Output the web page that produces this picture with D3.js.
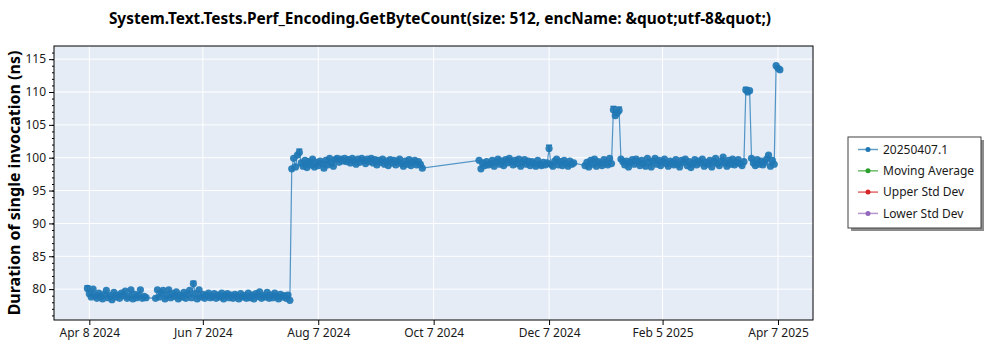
<!DOCTYPE html>
<html>
<head>
<meta charset="utf-8">
<script src="https://cdn.jsdelivr.net/npm/d3@7"></script>
<style>
  body { margin: 0; background: #fff; }
  svg { font-family: "Segoe UI", "Noto Sans", "Open Sans", sans-serif; }
</style>
</head>
<body>
<svg id="chart" width="1000" height="350"></svg>
<script>

const chartTitle = 'System.Text.Tests.Perf_Encoding.GetByteCount(size: 512, encName: &quot;utf-8&quot;)'
const yLabel = 'Duration of single invocation (ns)'

const xTickDates = ['2024-04-08', '2024-06-07', '2024-08-07', '2024-10-07', '2024-12-07', '2025-02-05', '2025-04-07']
const xTickLabels = ['Apr 8 2024', 'Jun 7 2024', 'Aug 7 2024', 'Oct 7 2024', 'Dec 7 2024', 'Feb 5 2025', 'Apr 7 2025']
const yTicks = [80, 85, 90, 95, 100, 105, 110, 115]

const seriesNames = ['20250407.1', 'Moving Average', 'Upper Std Dev', 'Lower Std Dev']
const seriesColors = ['#1f77b4', '#2ca02c', '#d62728', '#9467bd']

// [run date, mean duration in ns]
const runs = [
    ['2024-04-07',80.1],['2024-04-08',79.3],['2024-04-09',78.8],['2024-04-10',80.0],['2024-04-11',79.0],['2024-04-12',78.6],
    ['2024-04-13',79.4],['2024-04-14',78.9],['2024-04-15',78.5],['2024-04-16',79.2],['2024-04-17',79.8],['2024-04-18',78.7],
    ['2024-04-19',79.0],['2024-04-20',78.4],['2024-04-21',79.5],['2024-04-22',78.8],['2024-04-23',79.1],['2024-04-24',78.6],
    ['2024-04-25',79.4],['2024-04-26',79.0],['2024-04-27',79.7],['2024-04-28',78.6],['2024-04-29',78.9],['2024-04-30',79.9],
    ['2024-05-01',78.5],['2024-05-02',79.2],['2024-05-03',78.7],['2024-05-04',79.0],['2024-05-05',79.9],['2024-05-06',78.6],
    ['2024-05-07',78.9],['2024-05-08',78.7],
    ['2024-05-13',78.6],['2024-05-14',79.9],['2024-05-15',78.8],['2024-05-16',79.4],['2024-05-17',79.8],['2024-05-18',78.5],
    ['2024-05-19',79.0],['2024-05-20',79.9],['2024-05-21',78.7],['2024-05-22',79.3],['2024-05-23',78.9],['2024-05-24',79.6],
    ['2024-05-25',78.5],['2024-05-26',79.1],['2024-05-27',78.8],['2024-05-28',79.5],['2024-05-29',78.6],['2024-05-30',79.2],
    ['2024-05-31',79.8],['2024-06-01',78.7],['2024-06-02',80.8],['2024-06-03',79.3],['2024-06-04',78.5],['2024-06-05',79.9],
    ['2024-06-06',78.8],['2024-06-07',79.2],['2024-06-08',78.6],['2024-06-09',79.0],['2024-06-10',79.4],['2024-06-11',78.7],
    ['2024-06-12',78.9],['2024-06-13',79.3],['2024-06-14',78.6],['2024-06-15',79.1],['2024-06-16',78.8],['2024-06-17',79.4],
    ['2024-06-18',78.5],['2024-06-19',79.0],['2024-06-20',79.3],['2024-06-21',78.7],['2024-06-22',79.1],['2024-06-23',78.6],
    ['2024-06-24',79.2],['2024-06-25',78.9],['2024-06-26',78.5],['2024-06-27',79.3],['2024-06-28',78.8],['2024-06-29',79.0],
    ['2024-06-30',78.6],['2024-07-01',79.4],['2024-07-02',78.7],['2024-07-03',79.1],['2024-07-04',78.5],['2024-07-05',79.3],
    ['2024-07-06',78.9],['2024-07-07',79.6],['2024-07-08',78.6],['2024-07-09',79.0],['2024-07-10',78.8],['2024-07-11',79.5],
    ['2024-07-12',78.6],['2024-07-13',79.1],['2024-07-14',78.7],['2024-07-15',79.4],['2024-07-16',78.9],['2024-07-17',78.5],
    ['2024-07-18',79.2],['2024-07-19',78.8],['2024-07-20',79.0],['2024-07-21',78.6],['2024-07-22',79.1],['2024-07-23',78.3],
    ['2024-07-24',98.3],['2024-07-25',99.9],['2024-07-26',98.6],['2024-07-27',100.4],['2024-07-28',100.8],['2024-07-29',99.2],
    ['2024-07-30',98.7],['2024-07-31',99.6],['2024-08-01',98.5],['2024-08-02',99.4],['2024-08-03',98.9],['2024-08-04',99.8],
    ['2024-08-05',98.6],['2024-08-06',99.3],['2024-08-07',98.8],['2024-08-08',99.5],['2024-08-09',99.1],['2024-08-10',98.4],
    ['2024-08-11',99.6],['2024-08-12',98.9],['2024-08-13',99.9],['2024-08-14',99.2],['2024-08-15',98.7],['2024-08-16',99.7],
    ['2024-08-17',99.9],['2024-08-18',99.3],['2024-08-19',99.8],['2024-08-20',99.5],['2024-08-21',99.9],['2024-08-22',99.4],
    ['2024-08-23',99.7],['2024-08-24',99.2],['2024-08-25',99.9],['2024-08-26',99.5],['2024-08-27',99.0],['2024-08-28',99.8],
    ['2024-08-29',99.3],['2024-08-30',99.9],['2024-08-31',99.6],['2024-09-01',99.1],['2024-09-02',99.8],['2024-09-03',99.4],
    ['2024-09-04',99.9],['2024-09-05',99.2],['2024-09-06',99.7],['2024-09-07',98.9],['2024-09-08',99.6],['2024-09-09',99.3],
    ['2024-09-10',99.8],['2024-09-11',99.0],['2024-09-12',99.5],['2024-09-13',98.8],['2024-09-14',99.7],['2024-09-15',99.2],
    ['2024-09-16',99.6],['2024-09-17',98.9],['2024-09-18',99.4],['2024-09-19',99.8],['2024-09-20',99.1],['2024-09-21',98.7],
    ['2024-09-22',99.5],['2024-09-23',99.0],['2024-09-24',99.7],['2024-09-25',98.8],['2024-09-26',99.3],['2024-09-27',99.6],
    ['2024-09-28',98.9],['2024-09-29',99.4],['2024-09-30',99.0],['2024-10-01',98.4],
    ['2024-10-31',99.6],['2024-11-01',98.3],['2024-11-02',99.2],['2024-11-03',98.8],['2024-11-04',99.4],['2024-11-05',98.9],
    ['2024-11-06',99.1],['2024-11-07',99.6],['2024-11-08',98.7],['2024-11-09',99.3],['2024-11-10',99.8],['2024-11-11',99.0],
    ['2024-11-12',99.5],['2024-11-13',98.8],['2024-11-14',99.7],['2024-11-15',99.2],['2024-11-16',99.9],['2024-11-17',99.4],
    ['2024-11-18',98.9],['2024-11-19',99.6],['2024-11-20',99.1],['2024-11-21',99.8],['2024-11-22',98.7],['2024-11-23',99.3],
    ['2024-11-24',99.7],['2024-11-25',99.0],['2024-11-26',99.5],['2024-11-27',98.8],['2024-11-28',99.4],['2024-11-29',99.1],
    ['2024-11-30',98.7],['2024-12-01',99.6],['2024-12-02',99.0],['2024-12-03',98.8],['2024-12-04',99.3],['2024-12-05',98.9],
    ['2024-12-06',99.2],['2024-12-07',101.4],['2024-12-08',99.0],['2024-12-09',98.7],['2024-12-10',99.5],['2024-12-11',99.8],
    ['2024-12-12',98.9],['2024-12-13',99.4],['2024-12-14',98.8],['2024-12-15',99.6],['2024-12-16',99.1],['2024-12-17',98.7],
    ['2024-12-18',99.5],['2024-12-19',99.0],['2024-12-20',99.2],
    ['2024-12-26',98.8],['2024-12-27',99.3],['2024-12-28',98.6],['2024-12-29',99.6],['2024-12-30',99.0],['2024-12-31',99.8],
    ['2025-01-01',98.7],['2025-01-02',99.4],['2025-01-03',99.1],['2025-01-04',98.8],['2025-01-05',99.7],['2025-01-06',99.2],
    ['2025-01-07',98.9],['2025-01-08',99.9],['2025-01-09',99.1],
    ['2025-01-10',107.3],['2025-01-11',106.4],['2025-01-12',106.8],['2025-01-13',107.2],
    ['2025-01-14',99.8],['2025-01-15',99.4],['2025-01-16',98.9],['2025-01-17',99.5],['2025-01-18',98.6],['2025-01-19',99.3],
    ['2025-01-20',99.7],['2025-01-21',99.0],['2025-01-22',99.8],['2025-01-23',99.4],['2025-01-24',98.8],['2025-01-25',99.6],
    ['2025-01-26',99.1],['2025-01-27',98.7],['2025-01-28',99.9],['2025-01-29',99.3],['2025-01-30',98.6],['2025-01-31',99.5],
    ['2025-02-01',99.9],['2025-02-02',99.0],['2025-02-03',99.6],['2025-02-04',98.8],['2025-02-05',99.4],['2025-02-06',99.8],
    ['2025-02-07',99.1],['2025-02-08',98.7],['2025-02-09',99.5],['2025-02-10',99.2],['2025-02-11',98.9],['2025-02-12',99.7],
    ['2025-02-13',99.0],['2025-02-14',98.6],['2025-02-15',99.6],['2025-02-16',99.3],['2025-02-17',99.8],['2025-02-18',98.8],
    ['2025-02-19',99.4],['2025-02-20',98.5],['2025-02-21',99.1],['2025-02-22',99.7],['2025-02-23',98.9],['2025-02-24',99.5],
    ['2025-02-25',99.2],['2025-02-26',99.8],['2025-02-27',98.7],['2025-02-28',99.3],['2025-03-01',99.0],['2025-03-02',99.6],
    ['2025-03-03',98.6],['2025-03-04',99.4],['2025-03-05',99.9],['2025-03-06',99.1],['2025-03-07',98.8],['2025-03-08',99.5],
    ['2025-03-09',100.1],['2025-03-10',99.2],['2025-03-11',98.7],['2025-03-12',99.6],['2025-03-13',99.0],['2025-03-14',99.8],
    ['2025-03-15',98.9],['2025-03-16',99.3],['2025-03-17',99.7],['2025-03-18',99.1],['2025-03-19',98.8],['2025-03-20',99.4],
    ['2025-03-21',110.3],['2025-03-22',110.0],['2025-03-23',110.2],
    ['2025-03-24',99.9],['2025-03-25',99.2],['2025-03-26',98.8],['2025-03-27',99.7],['2025-03-28',99.0],['2025-03-29',99.5],
    ['2025-03-30',98.9],['2025-03-31',99.3],['2025-04-01',99.8],['2025-04-02',100.4],['2025-04-03',98.7],['2025-04-04',99.6],
    ['2025-04-05',99.0],
    ['2025-04-06',114.0],['2025-04-07',113.6],['2025-04-08',113.4]
]

// [run date, low, high] for the error bars that show past the markers
const errorBars = [
    ['2024-04-07',79.7,80.5],['2024-06-02',80.4,81.2],['2024-07-28',100.3,101.3],['2024-12-07',100.9,101.9],
    ['2025-01-10',106.8,107.8],['2025-01-13',106.7,107.7],['2025-03-21',109.9,110.7]
]

const svg = d3.select('#chart')

const margin = { left: 54, right: 187, top: 46, bottom: 30 }
const width = 1000 - margin.left - margin.right
const height = 350 - margin.top - margin.bottom

const xscale = d3.scaleUtc()
    .domain([ new Date(Date.UTC(2024, 2, 20, 8)), new Date(Date.UTC(2025, 3, 25, 12)) ])
    .range([ 0, width ])
const yscale = d3.scaleLinear().domain([ 75.3, 117 ]).range([ height, 0 ])

const plot = svg.append('g').attr('transform', `translate(${margin.left},${margin.top})`)

plot.append('rect').attr('width', width).attr('height', height).attr('fill', '#e5ecf6')

// grid
plot.append('g').selectAll('line').data(yTicks).join('line')
    .attr('x1', 0).attr('x2', width)
    .attr('y1', d => yscale(d)).attr('y2', d => yscale(d))
    .attr('stroke', '#fff').attr('stroke-width', 1)
plot.append('g').selectAll('line').data(xTickDates).join('line')
    .attr('x1', d => xscale(new Date(d))).attr('x2', d => xscale(new Date(d)))
    .attr('y1', 0).attr('y2', height)
    .attr('stroke', '#fff').attr('stroke-width', 1)

// axes
const xaxis = d3.axisBottom(xscale)
    .tickValues(xTickDates.map(d => new Date(d)))
    .tickFormat((d, i) => xTickLabels[i])
    .tickSize(5).tickPadding(3)
const yaxis = d3.axisLeft(yscale).tickValues(yTicks).tickSize(5).tickPadding(3)
const yminor = d3.axisLeft(yscale).tickValues(d3.range(76, 117)).tickSize(2).tickFormat('')

plot.append('g').attr('class', 'yminor').call(yminor)
plot.append('g').attr('class', 'xaxis').attr('transform', `translate(0,${height})`).call(xaxis)
plot.append('g').attr('class', 'yaxis').call(yaxis)

svg.selectAll('.domain').remove()
svg.selectAll('.xaxis text, .yaxis text').attr('font-size', 12).attr('fill', '#1a1a1a')
    .attr('font-family', '"Segoe UI", "Noto Sans", sans-serif')

// series
const line = d3.line().x(d => xscale(new Date(d[0]))).y(d => yscale(d[1]))

plot.append('path').datum(runs)
    .attr('fill', 'none').attr('stroke', seriesColors[0])
    .attr('stroke-opacity', 0.75).attr('stroke-width', 1.2)
    .attr('d', line)

const bars = plot.append('g').selectAll('g').data(errorBars).join('g')
    .attr('stroke', seriesColors[0]).attr('stroke-width', 1.5)
bars.append('line')
    .attr('x1', d => xscale(new Date(d[0]))).attr('x2', d => xscale(new Date(d[0])))
    .attr('y1', d => yscale(d[1])).attr('y2', d => yscale(d[2]))
bars.append('line')
    .attr('x1', d => xscale(new Date(d[0])) - 3).attr('x2', d => xscale(new Date(d[0])) + 3)
    .attr('y1', d => yscale(d[2])).attr('y2', d => yscale(d[2]))

plot.append('g').selectAll('circle').data(runs).join('circle')
    .attr('cx', d => xscale(new Date(d[0])))
    .attr('cy', d => yscale(d[1]))
    .attr('r', 3.6)
    .attr('fill', seriesColors[0])
    .attr('fill-opacity', 0.92)

// frame
plot.append('rect').attr('width', width).attr('height', height)
    .attr('fill', 'none').attr('stroke', '#000').attr('stroke-width', 1)

// titles
svg.append('text')
    .attr('x', 440).attr('y', 24)
    .attr('text-anchor', 'middle')
    .attr('font-size', 15.4).attr('font-weight', 'bold').attr('fill', '#000')
    .text(chartTitle)

svg.append('text')
    .attr('transform', `translate(20,${margin.top + height / 2}) rotate(-90)`)
    .attr('text-anchor', 'middle')
    .attr('font-size', 16).attr('font-weight', 'bold').attr('fill', '#000')
    .text(yLabel)

// legend
const legend = svg.append('g').attr('transform', 'translate(848,137)')
legend.append('rect').attr('x', 3).attr('y', 3).attr('width', 133).attr('height', 91).attr('fill', '#8c8c8c')
legend.append('rect').attr('width', 133).attr('height', 91).attr('fill', '#fff').attr('stroke', '#404040')

const items = legend.selectAll('g.item').data(seriesNames).join('g')
    .attr('class', 'item')
    .attr('transform', (d, i) => `translate(0,${12.5 + i * 21.3})`)
items.append('line').attr('x1', 10).attr('x2', 30)
    .attr('stroke', (d, i) => seriesColors[i]).attr('stroke-opacity', 0.7).attr('stroke-width', 1.5)
items.append('circle').attr('cx', 20).attr('r', 2.5).attr('fill', (d, i) => seriesColors[i])
items.append('text').attr('x', 35).attr('dy', '0.35em')
    .attr('font-size', 12).attr('fill', '#1a1a1a')
    .text(d => d)

</script>
</body>
</html>
